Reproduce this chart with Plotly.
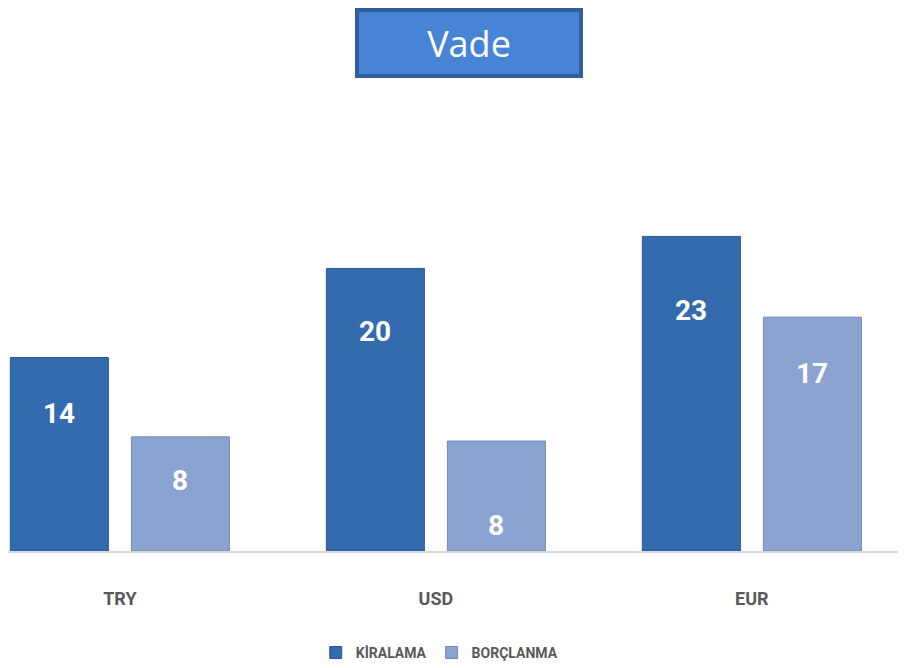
import plotly.graph_objects as go

categories = ["TRY", "USD", "EUR"]
kiralama = [13.9, 20.3, 22.6]
borclanma = [8.2, 7.9, 16.8]
series_names = ["KİRALAMA", "BORÇLANMA"]
title_text = "Vade"

# style: distance (px) of each value label below its bar top, as placed in the original
label_drop = [[56, 63, 74], [44, 84, 56]]

NARROW = "Liberation Sans Narrow, Roboto, Liberation Sans, sans-serif"
LABEL_GRAY = "#595959"

fig = go.Figure()
fig.add_trace(go.Bar(
    x=categories, y=kiralama, name=series_names[0],
    marker=dict(color="#346aae", line=dict(color="#2b5894", width=1)),
))
fig.add_trace(go.Bar(
    x=categories, y=borclanma, name=series_names[1],
    marker=dict(color="#8aa3d0", line=dict(color="#7489b3", width=1)),
))

# value labels
for trace_idx, vals in enumerate([kiralama, borclanma]):
    for i, (c, v) in enumerate(zip(categories, vals)):
        fig.add_annotation(
            x=c, y=v, xref="x", yref="y",
            text=f"<b>{round(v):d}</b>", showarrow=False,
            xshift=(-60.5 if trace_idx == 0 else 60.5),
            yshift=-label_drop[trace_idx][i],
            font=dict(family=NARROW, size=28, color="white"),
        )

# title box
fig.add_annotation(
    x=0.5088, y=1.1264, xref="paper", yref="paper",
    xanchor="center", yanchor="middle",
    text=title_text, showarrow=False,
    font=dict(family="Open Sans, Noto Sans, sans-serif", size=36, color="white"),
    bgcolor="#4784d6", bordercolor="#2f5f9e", borderwidth=4, borderpad=0,
    width=220, height=62,
)

fig.update_layout(
    width=906, height=668,
    margin=dict(l=0, r=0, t=92, b=125),
    paper_bgcolor="white", plot_bgcolor="white",
    barmode="group", bargap=0.234, bargroupgap=0.19,
    showlegend=True,
    legend=dict(
        orientation="h", x=0.476, xanchor="center", y=-0.226, yanchor="middle",
        font=dict(family=NARROW, size=14, color=LABEL_GRAY, weight="bold"),
        itemwidth=30, traceorder="normal",
    ),
    xaxis=dict(
        type="category", range=[-0.354, 2.513],
        showline=True, linecolor="#d9d9d9", linewidth=1.5,
        showgrid=False, ticks="", ticklabelstandoff=31,
        tickfont=dict(family=NARROW, size=18, color=LABEL_GRAY, weight="bold"),
    ),
    yaxis=dict(range=[0, 32.4], visible=False, showgrid=False, zeroline=False),
)

fig.write_html("out.html")
